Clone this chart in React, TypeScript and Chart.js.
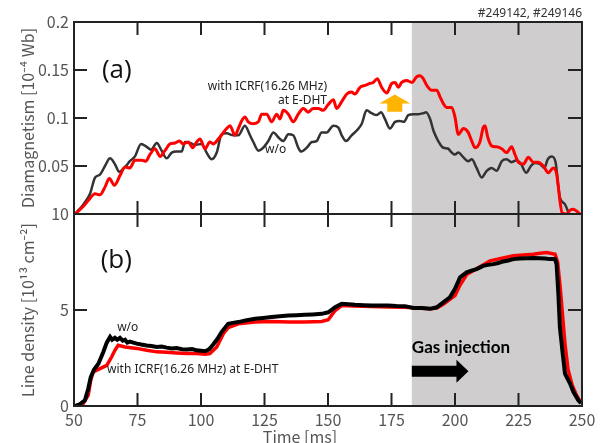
import React, { useEffect, useRef } from 'react';
import { Chart, registerables } from 'chart.js';
Chart.register(...registerables);

// ---- Diamagnetism (panel a) ----
const DIA_WO_T = [50.4, 53.7, 56.3, 58.3, 60.2, 62.2, 64.2, 66.1, 67.8, 70.1, 72.0, 74.0, 76.4, 78.6, 80.3, 82.6, 84.5, 86.5, 88.5, 90.4, 92.4, 93.7, 95.7, 97.6, 100.3, 102.2, 104.2, 106.2, 108.1, 110.1, 112.7, 114.7, 117.3, 119.3, 120.6, 122.6, 124.5, 126.5, 128.5, 130.4, 132.4, 134.4, 136.3, 138.3, 139.4, 141.6, 143.6, 145.5, 147.5, 149.5, 152.1, 154.1, 155.4, 157.1, 159.3, 161.3, 163.3, 165.2, 167.2, 169.2, 170.9, 172.4, 174.4, 176.4, 178.3, 179.9, 181.6, 183.6, 185.6, 187.5, 188.6, 190.2, 191.5, 193.4, 195.4, 197.4, 198.0, 200.0, 201.3, 203.3, 205.2, 206.6, 208.5, 210.5, 212.5, 214.4, 216.4, 218.4, 220.3, 222.3, 224.3, 226.0, 228.0, 229.9, 231.5, 233.5, 235.2, 236.5, 238.1, 239.6, 240.7, 241.3, 243.3, 244.9];
const DIA_WO_V = [0.000, 0.010, 0.021, 0.038, 0.041, 0.050, 0.058, 0.052, 0.044, 0.049, 0.055, 0.060, 0.073, 0.070, 0.067, 0.074, 0.066, 0.058, 0.064, 0.065, 0.065, 0.075, 0.074, 0.072, 0.073, 0.064, 0.057, 0.064, 0.083, 0.084, 0.082, 0.082, 0.092, 0.082, 0.075, 0.066, 0.069, 0.076, 0.085, 0.080, 0.076, 0.083, 0.082, 0.069, 0.065, 0.069, 0.075, 0.076, 0.085, 0.085, 0.092, 0.090, 0.082, 0.076, 0.082, 0.087, 0.094, 0.108, 0.105, 0.103, 0.106, 0.099, 0.089, 0.096, 0.097, 0.096, 0.103, 0.104, 0.104, 0.105, 0.106, 0.099, 0.087, 0.076, 0.069, 0.068, 0.066, 0.062, 0.064, 0.059, 0.055, 0.057, 0.048, 0.038, 0.045, 0.048, 0.045, 0.055, 0.057, 0.054, 0.056, 0.052, 0.043, 0.050, 0.053, 0.052, 0.048, 0.057, 0.060, 0.054, 0.028, 0.017, 0.010, 0.000];

const DIA_RF_T = [50.4, 53.7, 55.6, 58.3, 60.2, 62.2, 63.9, 65.9, 68.1, 70.1, 72.0, 74.0, 76.7, 78.3, 79.9, 81.9, 83.9, 85.8, 87.8, 89.8, 91.5, 93.0, 95.0, 96.7, 98.3, 99.6, 101.6, 103.5, 104.8, 106.8, 110.1, 111.4, 113.4, 114.7, 116.0, 117.3, 118.6, 120.6, 122.6, 123.9, 125.9, 127.8, 129.8, 131.1, 132.4, 134.4, 136.3, 138.3, 140.3, 142.2, 144.2, 146.2, 148.1, 150.1, 152.1, 153.4, 155.4, 157.4, 159.3, 160.6, 162.6, 164.6, 166.5, 167.8, 169.4, 171.1, 173.1, 175.1, 176.4, 177.7, 179.0, 181.0, 183.0, 184.9, 186.2, 187.5, 188.9, 190.8, 192.8, 194.1, 195.4, 196.7, 198.7, 200.0, 201.3, 203.3, 205.2, 206.6, 207.9, 209.8, 211.1, 211.8, 212.9, 214.4, 216.4, 218.4, 220.3, 222.3, 223.6, 224.9, 226.9, 228.9, 230.8, 232.8, 234.8, 236.7, 238.7, 240.0, 240.7, 241.3, 242.2, 244.0, 245.3, 246.6, 247.9, 249.2];
const DIA_RF_V = [0.000, 0.008, 0.014, 0.021, 0.020, 0.028, 0.037, 0.030, 0.040, 0.049, 0.048, 0.056, 0.056, 0.055, 0.062, 0.068, 0.060, 0.066, 0.073, 0.074, 0.076, 0.073, 0.075, 0.069, 0.075, 0.078, 0.068, 0.075, 0.073, 0.078, 0.089, 0.092, 0.082, 0.089, 0.097, 0.101, 0.096, 0.094, 0.096, 0.104, 0.104, 0.096, 0.104, 0.099, 0.108, 0.104, 0.096, 0.104, 0.110, 0.106, 0.110, 0.110, 0.108, 0.114, 0.119, 0.110, 0.117, 0.125, 0.127, 0.125, 0.132, 0.134, 0.136, 0.137, 0.141, 0.132, 0.126, 0.136, 0.137, 0.132, 0.137, 0.139, 0.137, 0.143, 0.144, 0.141, 0.134, 0.129, 0.129, 0.122, 0.115, 0.111, 0.111, 0.101, 0.083, 0.089, 0.085, 0.076, 0.069, 0.075, 0.090, 0.092, 0.080, 0.071, 0.070, 0.068, 0.064, 0.070, 0.062, 0.054, 0.052, 0.059, 0.054, 0.054, 0.050, 0.043, 0.048, 0.042, 0.028, 0.014, 0.001, 0.000, 0.004, 0.005, 0.003, 0.000];

// ---- Line density (panel b) ----
const DEN_WO_T = [50.4, 52.4, 54.3, 55.6, 56.6, 57.9, 59.6, 61.5, 62.9, 64.2, 65.0, 66.1, 67.0, 68.1, 69.2, 70.1, 71.0, 72.0, 74.7, 76.5, 78.6, 80.5, 82.6, 84.5, 86.5, 88.5, 90.4, 92.5, 94.4, 96.5, 98.3, 100.0, 101.6, 103.2, 104.8, 106.5, 108.1, 110.7, 112.5, 114.7, 117.5, 121.3, 124.5, 127.8, 131.0, 134.4, 137.5, 140.9, 144.0, 147.5, 150.1, 152.8, 155.4, 158.0, 160.6, 164.0, 167.2, 170.5, 173.7, 177.0, 180.3, 183.6, 187.0, 190.2, 192.8, 195.4, 198.0, 200.0, 202.0, 204.6, 206.5, 208.5, 211.1, 213.0, 215.1, 217.0, 219.0, 221.0, 223.0, 225.5, 228.2, 231.0, 233.5, 235.5, 237.4, 239.4, 240.0, 240.7, 241.3, 242.4, 243.3, 245.3, 246.6, 248.5, 249.6];
const DEN_WO_V = [0.00, 0.10, 0.30, 0.90, 1.50, 1.90, 2.20, 2.80, 3.30, 3.60, 3.45, 3.55, 3.45, 3.55, 3.40, 3.45, 3.30, 3.35, 3.25, 3.20, 3.15, 3.12, 3.07, 3.10, 3.04, 3.00, 3.02, 2.96, 2.94, 2.97, 2.90, 2.88, 2.85, 2.95, 3.20, 3.50, 3.85, 4.28, 4.33, 4.37, 4.45, 4.54, 4.58, 4.63, 4.67, 4.71, 4.73, 4.75, 4.77, 4.80, 4.88, 5.14, 5.32, 5.30, 5.27, 5.25, 5.23, 5.24, 5.23, 5.21, 5.20, 5.11, 5.10, 5.06, 5.14, 5.40, 5.66, 6.10, 6.70, 6.96, 7.05, 7.13, 7.30, 7.35, 7.39, 7.45, 7.53, 7.58, 7.65, 7.68, 7.70, 7.71, 7.70, 7.68, 7.65, 7.65, 7.39, 5.84, 4.10, 2.73, 1.69, 1.17, 0.74, 0.31, 0.14];

const DEN_RF_T = [50.4, 53.7, 55.6, 56.6, 57.6, 60.2, 62.9, 64.8, 66.1, 67.4, 70.1, 74.7, 78.6, 82.6, 86.5, 90.4, 94.4, 98.3, 101.6, 103.5, 106.2, 108.8, 110.7, 114.7, 121.3, 127.8, 134.4, 140.9, 147.5, 150.1, 152.8, 155.4, 160.0, 167.2, 173.7, 180.3, 185.0, 190.2, 192.8, 195.4, 198.0, 200.0, 202.0, 204.6, 208.5, 213.8, 218.5, 223.0, 227.0, 230.8, 233.5, 236.1, 239.4, 240.4, 241.3, 243.3, 244.5, 246.1, 247.7, 249.6];
const DEN_RF_V = [0.00, 0.14, 0.57, 1.35, 1.78, 1.95, 2.12, 2.55, 2.90, 3.16, 3.07, 3.00, 2.90, 2.82, 2.80, 2.76, 2.73, 2.73, 2.70, 2.73, 3.07, 3.77, 4.08, 4.28, 4.37, 4.40, 4.37, 4.37, 4.40, 4.49, 4.97, 5.23, 5.21, 5.18, 5.16, 5.14, 5.10, 5.06, 5.10, 5.30, 5.55, 5.75, 6.30, 6.85, 7.15, 7.56, 7.70, 7.82, 7.86, 7.90, 7.95, 7.99, 7.90, 7.50, 6.35, 3.25, 1.90, 1.10, 0.60, 0.15];

const X_TICKS = [50, 75, 100, 125, 150, 175, 200, 225, 250];
const DIA_TICKS = [0, 0.05, 0.1, 0.15, 0.2];
const DEN_TICKS = [0, 5, 10];
const SHADE_START = 183;

// annotation anchors (data coordinates)
const NOTE = {
  a: { t: 61, v: 0.149 },
  b: { t: 60.5, v: 7.56 },
  rfA1: { t: 149.6, v: 0.133 },
  rfA2: { t: 149.6, v: 0.118 },
  woA: { t: 125.2, v: 0.067 },
  woB: { t: 67, v: 4.09 },
  rfB: { t: 63, v: 1.92 },
  gas: { t: 183, v: 3.06 },
  gasArrow: { t0: 183, t1: 205.3, v: 1.81 },
  upArrow: { t: 176.3, v0: 0.1065, v1: 0.1245 },
};

const pts = (t: number[], v: number[]) => t.map((x, i) => ({ x, y: v[i] }));

const TICK_FONT = "'Noto Sans CJK JP', 'Noto Sans', 'DejaVu Sans', sans-serif";

const framePlugin = {
  id: 'frame',
  beforeDatasetsDraw(chart: any) {
    const { ctx, chartArea, scales } = chart;
    const x0 = scales.x.getPixelForValue(SHADE_START);
    ctx.save();
    ctx.fillStyle = '#cfcdce';
    ctx.fillRect(x0, chartArea.top, chartArea.right - x0, chartArea.bottom - chartArea.top);
    ctx.restore();
  },
  afterDatasetsDraw(chart: any) {
    const { ctx, scales } = chart;
    const x = scales.x;
    const L = x.getPixelForValue(50);
    const R = x.getPixelForValue(250);
    const TL = 13;
    ctx.save();
    ctx.strokeStyle = '#222';
    ctx.lineWidth = 2;
    for (const [ys, ticks] of [[scales.yTop, DIA_TICKS], [scales.yBot, DEN_TICKS]] as any) {
      const top = ys.getPixelForValue(ticks[ticks.length - 1]);
      const bot = ys.getPixelForValue(ticks[0]);
      ctx.strokeRect(L, top, R - L, bot - top);
      ctx.beginPath();
      for (const v of X_TICKS.slice(1, -1)) {
        const px = x.getPixelForValue(v);
        ctx.moveTo(px, top); ctx.lineTo(px, top + TL);
        ctx.moveTo(px, bot); ctx.lineTo(px, bot - TL);
      }
      for (const v of ticks.slice(1, -1)) {
        const py = ys.getPixelForValue(v);
        ctx.moveTo(L, py); ctx.lineTo(L + TL, py);
        ctx.moveTo(R, py); ctx.lineTo(R - TL - 1, py);
      }
      ctx.stroke();
    }
    const yt = scales.yTop, yb = scales.yBot;
    const P = (s: any, t: number, v: number) => [x.getPixelForValue(t), s.getPixelForValue(v)];

    // panel labels
    ctx.fillStyle = '#111';
    ctx.textBaseline = 'middle';
    ctx.textAlign = 'left';
    ctx.font = "26px 'Open Sans', sans-serif";
    let p = P(yt, NOTE.a.t, NOTE.a.v); ctx.fillText('(a)', p[0], p[1]);
    p = P(yb, NOTE.b.t, NOTE.b.v); ctx.fillText('(b)', p[0], p[1]);

    // curve labels
    ctx.fillStyle = '#222';
    ctx.font = "12px 'Noto Sans', sans-serif";
    ctx.textAlign = 'right';
    p = P(yt, NOTE.rfA1.t, NOTE.rfA1.v); ctx.fillText('with ICRF(16.26 MHz)', p[0], p[1]);
    p = P(yt, NOTE.rfA2.t, NOTE.rfA2.v); ctx.fillText('at E-DHT', p[0], p[1]);
    ctx.textAlign = 'left';
    p = P(yt, NOTE.woA.t, NOTE.woA.v); ctx.fillText('w/o', p[0], p[1]);
    p = P(yb, NOTE.woB.t, NOTE.woB.v); ctx.fillText('w/o', p[0], p[1]);
    p = P(yb, NOTE.rfB.t, NOTE.rfB.v); ctx.fillText('with ICRF(16.26 MHz) at E-DHT', p[0], p[1]);

    // gas injection
    ctx.fillStyle = '#000';
    ctx.font = "bold 17px Lato, sans-serif";
    p = P(yb, NOTE.gas.t, NOTE.gas.v); ctx.fillText('Gas injection', p[0], p[1]);
    const a0 = x.getPixelForValue(NOTE.gasArrow.t0);
    const a1 = x.getPixelForValue(NOTE.gasArrow.t1);
    const ay = yb.getPixelForValue(NOTE.gasArrow.v);
    ctx.beginPath();
    ctx.moveTo(a0, ay - 5.5); ctx.lineTo(a1 - 12, ay - 5.5); ctx.lineTo(a1 - 12, ay - 11.5);
    ctx.lineTo(a1, ay); ctx.lineTo(a1 - 12, ay + 11.5); ctx.lineTo(a1 - 12, ay + 5.5);
    ctx.lineTo(a0, ay + 5.5); ctx.closePath(); ctx.fill();

    // orange up arrow
    const ux = x.getPixelForValue(NOTE.upArrow.t);
    const uy0 = yt.getPixelForValue(NOTE.upArrow.v0);
    const uy1 = yt.getPixelForValue(NOTE.upArrow.v1);
    ctx.fillStyle = '#ffb400';
    ctx.beginPath();
    ctx.moveTo(ux - 7.5, uy0); ctx.lineTo(ux + 7.5, uy0); ctx.lineTo(ux + 7.5, uy1 + 9);
    ctx.lineTo(ux + 15.5, uy1 + 9); ctx.lineTo(ux, uy1); ctx.lineTo(ux - 15.5, uy1 + 9);
    ctx.lineTo(ux - 7.5, uy1 + 9); ctx.closePath(); ctx.fill();

    // shot numbers and x-axis title
    ctx.fillStyle = '#333';
    ctx.font = "12px 'Noto Sans', sans-serif";
    ctx.textAlign = 'right';
    ctx.fillText('#249142, #249146', R, 14);
    ctx.fillStyle = '#555';
    ctx.font = `16px ${TICK_FONT}`;
    ctx.textAlign = 'center';
    ctx.textBaseline = 'alphabetic';
    ctx.fillText('Time [ms]', 300, 443);
    ctx.restore();
  },
};

export default function App() {
  const ref = useRef<HTMLCanvasElement>(null);
  useEffect(() => {
    const tickFont = { family: TICK_FONT, size: 16 };
    const chart = new Chart(ref.current!, {
      type: 'line',
      data: {
        datasets: [
          { data: pts(DIA_RF_T, DIA_RF_V), yAxisID: 'yTop', borderColor: '#ff0000', borderWidth: 3, pointRadius: 0, cubicInterpolationMode: 'monotone', order: 1 } as any,
          { data: pts(DIA_WO_T, DIA_WO_V), yAxisID: 'yTop', borderColor: '#333333', borderWidth: 2.5, pointRadius: 0, cubicInterpolationMode: 'monotone', order: 2 },
          { data: pts(DEN_WO_T, DEN_WO_V), yAxisID: 'yBot', borderColor: '#000000', borderWidth: 4, pointRadius: 0, tension: 0, order: 1 },
          { data: pts(DEN_RF_T, DEN_RF_V), yAxisID: 'yBot', borderColor: '#ff0000', borderWidth: 3.5, pointRadius: 0, tension: 0, order: 2 },
        ],
      },
      options: {
        responsive: false,
        animation: false,
        layout: { padding: { top: 22, right: 19, left: 0, bottom: 0 } },
        plugins: { legend: { display: false }, tooltip: { enabled: false } },
        scales: {
          x: {
            type: 'linear', min: 50, max: 250,
            afterBuildTicks: (s: any) => { s.ticks = X_TICKS.map((value) => ({ value })); },
            ticks: { font: tickFont, color: '#555', padding: 4, maxRotation: 0 },
            grid: { display: false, drawTicks: false },
            border: { display: false },
            afterFit: (s: any) => { s.height = 37; },
          },
          yBot: {
            type: 'linear', position: 'left', stack: 'panels', stackWeight: 1, min: 0, max: 10,
            afterBuildTicks: (s: any) => { s.ticks = DEN_TICKS.map((value) => ({ value })); },
            ticks: { font: tickFont, color: '#555', padding: 5, callback: (v: any) => String(v) },
            grid: { display: false, drawTicks: false },
            border: { display: false },
            title: { display: true, text: 'Line density [10¹³ cm⁻²]', font: { family: TICK_FONT, size: 16 }, color: '#555', padding: { top: 18, bottom: 0 } },
            afterFit: (s: any) => { s.width = 74; },
          },
          yTop: {
            type: 'linear', position: 'left', stack: 'panels', stackWeight: 1, min: 0, max: 0.2,
            afterBuildTicks: (s: any) => { s.ticks = DIA_TICKS.map((value) => ({ value })); },
            ticks: { font: tickFont, color: '#555', padding: 5, callback: (v: any) => (v === 0 ? '' : String(Number(Number(v).toFixed(2)))) },
            grid: { display: false, drawTicks: false },
            border: { display: false },
            title: { display: true, text: 'Diamagnetism [10⁻⁴ Wb]', font: { family: TICK_FONT, size: 16 }, color: '#555', padding: { top: 18, bottom: 0 } },
            afterFit: (s: any) => { s.width = 74; },
          },
        },
      } as any,
      plugins: [framePlugin],
    });
    return () => chart.destroy();
  }, []);
  return (
    <div style={{ position: 'absolute', left: 0, top: 0, width: 601, height: 443, background: '#fff' }}>
      <canvas ref={ref} width={601} height={443} style={{ display: 'block' }} />
    </div>
  );
}
